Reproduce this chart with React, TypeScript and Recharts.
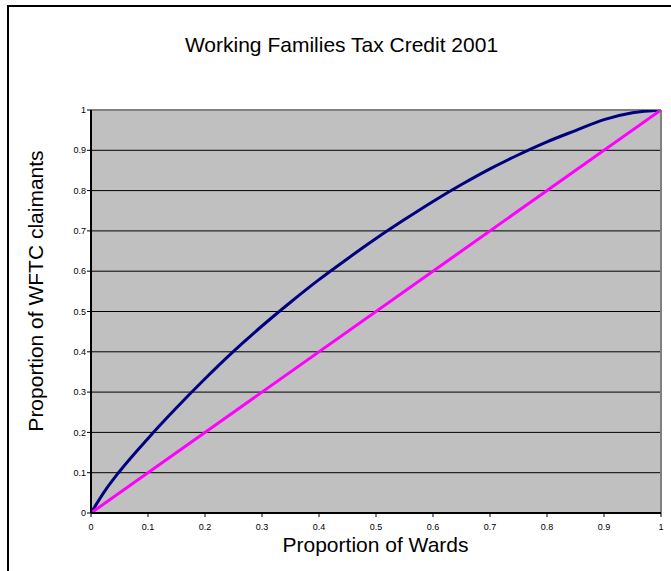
import { CartesianGrid, Line, LineChart, ReferenceLine, XAxis, YAxis } from "recharts";

// Cumulative share of wards (ranked) vs cumulative share of WFTC claimants
const wardShare = [
  0, 0.025, 0.05, 0.1, 0.15, 0.2, 0.25, 0.3, 0.35, 0.4, 0.45, 0.5,
  0.55, 0.6, 0.65, 0.7, 0.75, 0.8, 0.85, 0.9, 0.95, 1,
];
const claimantShare = [
  0, 0.056, 0.103, 0.185, 0.261, 0.333, 0.401, 0.464, 0.523, 0.579, 0.631, 0.681,
  0.728, 0.773, 0.815, 0.854, 0.889, 0.921, 0.949, 0.976, 0.993, 1,
];

// Line of equality
const equalityX = [0, 1];
const equalityY = [0, 1];

const axisTicks = [0, 0.1, 0.2, 0.3, 0.4, 0.5, 0.6, 0.7, 0.8, 0.9, 1];

const FONT = '"Liberation Sans", Arial, sans-serif';

const curve = wardShare.map((x, i) => ({ x, y: claimantShare[i] }));
const equality = equalityX.map((x, i) => ({ x, y: equalityY[i] }));

const tickStyle = { fontSize: 9, fill: "#000", fontFamily: FONT };

export default function App() {
  return (
    <div
      style={{
        position: "absolute",
        left: 0,
        top: 0,
        width: 671,
        height: 571,
        overflow: "hidden",
        background: "#fff",
      }}
    >
      {/* chart frame, cut off on the right and bottom */}
      <div
        style={{
          position: "absolute",
          left: 7,
          top: 5,
          width: 700,
          height: 600,
          border: "2px solid #000",
        }}
      />
      <LineChart
        width={671}
        height={571}
        margin={{ top: 110, right: 10, bottom: 28, left: 0 }}
        style={{ position: "absolute", left: 0, top: 0 }}
      >
        <CartesianGrid fill="#C0C0C0" stroke="#000" vertical={false} horizontalValues={axisTicks} />
        <XAxis
          type="number"
          dataKey="x"
          domain={[0, 1]}
          ticks={axisTicks}
          height={30}
          tickSize={4}
          tickMargin={7}
          tick={tickStyle}
          tickLine={{ stroke: "#000" }}
          axisLine={{ stroke: "#000", strokeWidth: 2 }}
          allowDataOverflow
        />
        <YAxis
          type="number"
          dataKey="y"
          domain={[0, 1]}
          ticks={axisTicks}
          width={91}
          tickSize={4}
          tickMargin={1}
          tick={tickStyle}
          tickLine={{ stroke: "#000" }}
          axisLine={{ stroke: "#000", strokeWidth: 2 }}
          allowDataOverflow
        />
        <ReferenceLine y={1} stroke="#808080" strokeWidth={2} />
        <ReferenceLine x={1} stroke="#808080" strokeWidth={2} />
        <Line
          data={curve}
          dataKey="y"
          type="monotone"
          stroke="#000080"
          strokeWidth={3}
          dot={false}
          isAnimationActive={false}
        />
        <Line
          data={equality}
          dataKey="y"
          type="linear"
          stroke="#FF00FF"
          strokeWidth={3}
          dot={false}
          isAnimationActive={false}
        />
      </LineChart>
      <svg
        width={671}
        height={571}
        style={{ position: "absolute", left: 0, top: 0, pointerEvents: "none" }}
        fontFamily={FONT}
        fontSize={21}
        fill="#000"
      >
        <text x={341.5} y={52} textAnchor="middle">
          Working Families Tax Credit 2001
        </text>
        <text x={375.5} y={552} textAnchor="middle">
          Proportion of Wards
        </text>
        <text x={43} y={291} textAnchor="middle" transform="rotate(-90 43 291)">
          Proportion of WFTC claimants
        </text>
      </svg>
    </div>
  );
}
